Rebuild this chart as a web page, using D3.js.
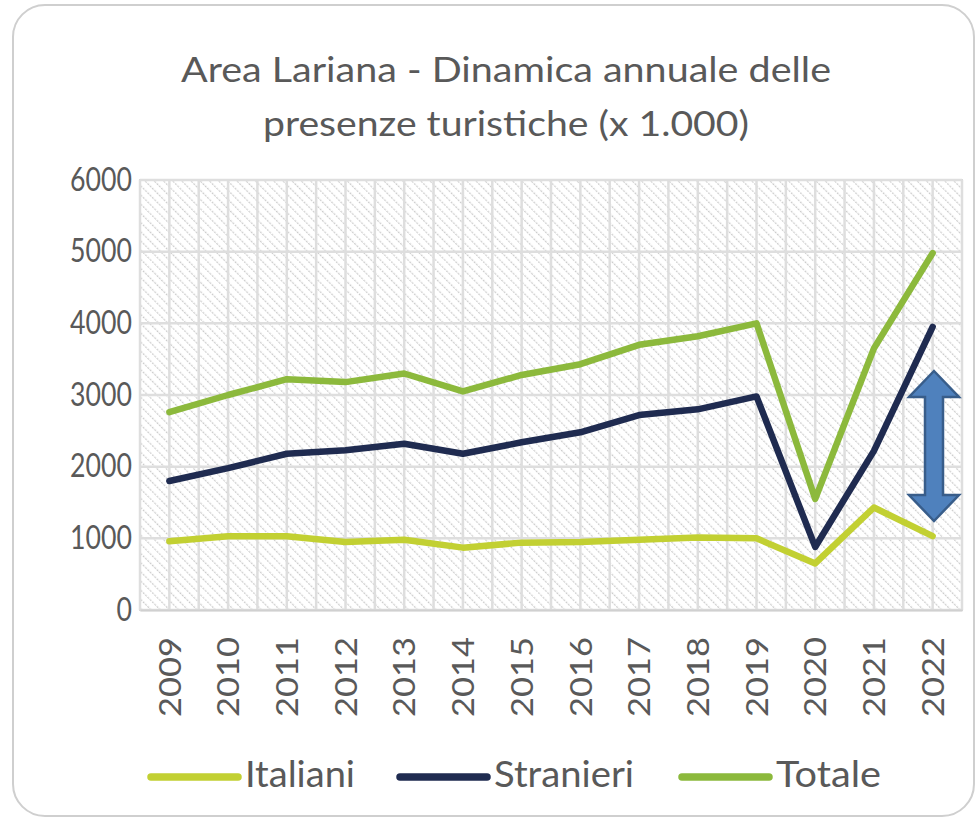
<!DOCTYPE html>
<html><head><meta charset="utf-8">
<script src="https://cdn.jsdelivr.net/npm/d3@7/dist/d3.min.js"></script>
<style>body{margin:0;background:#fff}svg{display:block}</style>
</head><body>
<svg id="c" width="980" height="822"></svg>
<script>
const years = ["2009","2010","2011","2012","2013","2014","2015","2016","2017","2018","2019","2020","2021","2022"];
const italiani = [960,1030,1030,950,980,870,940,950,980,1010,1000,650,1430,1030];
const stranieri = [1800,1980,2180,2230,2320,2180,2340,2480,2720,2800,2980,880,2220,3950];
const totale = [2760,3000,3220,3180,3300,3050,3280,3430,3700,3820,4000,1550,3650,4980];
const yTicks = [0,1000,2000,3000,4000,5000,6000];
const seriesNames = ["Italiani","Stranieri","Totale"];
const seriesColors = ["#c2d032","#1f2b50","#8cb93c"];
const title = ["Area Lariana - Dinamica annuale delle","presenze turistiche (x 1.000)"];

const svg = d3.select("#c");
const font = "Lato, 'Open Sans', sans-serif";
const txt = "#595959";

// card
svg.append("rect").attr("x",13).attr("y",5).attr("width",961).attr("height",811)
  .attr("rx",32).attr("fill","#fff").attr("stroke","#cfcfcf").attr("stroke-width",2);

// title
const titleW = [650,486];
svg.append("g").selectAll("text").data(title).join("text")
  .attr("x",506).attr("y",(d,i)=>82+i*54).attr("text-anchor","middle")
  .attr("font-family",font).attr("font-size",35).attr("fill",txt)
  .attr("textLength",(d,i)=>titleW[i]).attr("lengthAdjust","spacingAndGlyphs").text(d=>d);

const L=140, R=962, T=180, B=610;
const x = d3.scaleBand().domain(years).range([L,R]);
const y = d3.scaleLinear().domain([0,6000]).range([B,T]);

// hatch pattern
const defs = svg.append("defs");
const pat = defs.append("pattern").attr("id","hatch").attr("patternUnits","userSpaceOnUse")
  .attr("width",6.5).attr("height",6.5).attr("patternTransform","rotate(-45)");
pat.append("rect").attr("width",6.5).attr("height",6.5).attr("fill","#fff");
pat.append("line").attr("x1",0).attr("y1",0).attr("x2",0).attr("y2",6.5)
  .attr("stroke","#cccccc").attr("stroke-width",2.4).attr("stroke-dasharray","2 1.25");

svg.append("rect").attr("x",L).attr("y",T).attr("width",R-L).attr("height",B-T)
  .attr("fill","url(#hatch)").attr("stroke","#d9d9d9").attr("stroke-width",2);

// gridlines
const grid = svg.append("g");
grid.selectAll("line.h").data(yTicks).join("line").attr("class","h")
  .attr("x1",L).attr("x2",R).attr("y1",d=>y(d)).attr("y2",d=>y(d))
  .attr("stroke","#dedede").attr("stroke-width",2.5);
const vpos = [];
years.forEach(yr=>{vpos.push(x(yr)); vpos.push(x(yr)+x.bandwidth()/2);});
vpos.push(R);
grid.selectAll("line.v").data(vpos).join("line").attr("class","v")
  .attr("x1",d=>d).attr("x2",d=>d).attr("y1",T).attr("y2",B)
  .attr("stroke","#dedede").attr("stroke-width",2.5);

// y axis
const ya = svg.append("g").attr("transform",`translate(${L},0)`)
  .call(d3.axisLeft(y).tickValues(yTicks).tickSize(0).tickPadding(8).tickFormat(d3.format("d")));
ya.select(".domain").remove();
ya.selectAll("text").attr("font-family",font).attr("font-size",32).attr("fill",txt)
  .attr("textLength",d=>String(d).length*15.5).attr("lengthAdjust","spacingAndGlyphs");

// x axis
const xa = svg.append("g").attr("transform",`translate(0,${B})`)
  .call(d3.axisBottom(x).tickSize(0));
xa.select(".domain").attr("stroke","#d0d0d0").attr("stroke-width",2);
xa.selectAll("text").attr("font-family",font).attr("font-size",31).attr("fill",txt)
  .attr("transform","rotate(-90)").attr("text-anchor","end").attr("x",-27).attr("y",0).attr("dy","0.36em")
  .attr("textLength",80).attr("lengthAdjust","spacingAndGlyphs");

// lines
const data = [italiani,stranieri,totale];
const line = d3.line().x((d,i)=>x(years[i])+x.bandwidth()/2).y(d=>y(d));
svg.append("g").selectAll("path").data(data).join("path")
  .attr("d",line).attr("fill","none").attr("stroke",(d,i)=>seriesColors[i])
  .attr("stroke-width",6.5).attr("stroke-linejoin","round").attr("stroke-linecap","round");

// double arrow
const ax = 934, aTop = 371, aBot = 521, hw = 25, sw = 9, hh = 26;
const arrow = [[ax,aTop],[ax+hw,aTop+hh],[ax+sw,aTop+hh],[ax+sw,aBot-hh],[ax+hw,aBot-hh],[ax,aBot],
  [ax-hw,aBot-hh],[ax-sw,aBot-hh],[ax-sw,aTop+hh],[ax-hw,aTop+hh]];
svg.append("path").attr("d",d3.line()(arrow)+"Z").attr("fill","#4f81bd")
  .attr("stroke","#385d8a").attr("stroke-width",2.5).attr("stroke-linejoin","miter");

// legend
const lgX = [151,400,682];
const lgW = [110,140,105];
const lg = svg.append("g").selectAll("g").data(seriesNames).join("g")
  .attr("transform",(d,i)=>`translate(${lgX[i]},777)`);
lg.append("line").attr("x1",0).attr("x2",87).attr("stroke",(d,i)=>seriesColors[i])
  .attr("stroke-width",7.5).attr("stroke-linecap","round");
lg.append("text").attr("x",94).attr("y",10).attr("font-family",font)
  .attr("font-size",37).attr("fill",txt)
  .attr("textLength",(d,i)=>lgW[i]).attr("lengthAdjust","spacingAndGlyphs").text(d=>d);
</script>
</body></html>
